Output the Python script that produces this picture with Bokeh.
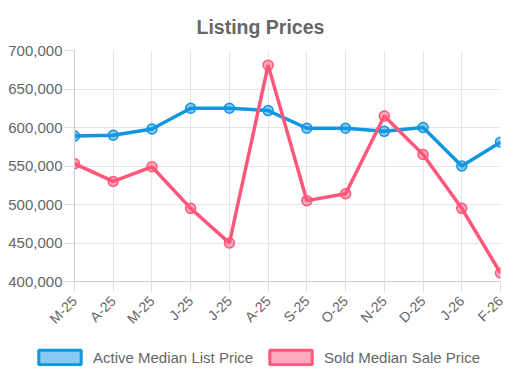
from math import pi
from bokeh.plotting import figure
from bokeh.layouts import column
from bokeh.models import (Range1d, FixedTicker, NumeralTickFormatter, Title,
                          Legend, LegendItem, ColumnDataSource)
from bokeh.embed import file_html
from bokeh.resources import INLINE

months = ["M-25", "A-25", "M-25", "J-25", "J-25", "A-25", "S-25", "O-25",
          "N-25", "D-25", "J-26", "F-26"]
active_list = [589000, 590000, 598000, 625000, 625000, 622000, 599000, 599000,
               595000, 600000, 550000, 581000]
sold_sale = [553000, 530000, 549000, 495000, 450000, 681000, 505000, 514000,
             615000, 565000, 495000, 411000]
y_ticks = [400000, 450000, 500000, 550000, 600000, 650000, 700000]
series_names = ["Active Median List Price", "Sold Median Sale Price"]

BLUE = "#1296e2"
RED = "#ff5679"
FONT = "Liberation Sans"
GREY = "#666666"

x = list(range(len(months)))

p = figure(width=520, height=335, output_backend="svg", toolbar_location=None,
           x_range=Range1d(0, len(months) - 1), y_range=Range1d(400000, 700000),
           min_border_left=74, min_border_right=20, min_border_top=50,
           min_border_bottom=53)
p.frame_align = False
p.outline_line_color = None
p.background_fill_color = "white"
p.border_fill_color = "white"

# axes
p.xaxis.ticker = FixedTicker(ticks=x)
p.xaxis.major_label_overrides = {i: m for i, m in enumerate(months)}
p.xaxis.major_label_orientation = pi / 4
p.yaxis.ticker = FixedTicker(ticks=y_ticks)
p.yaxis.formatter = NumeralTickFormatter(format="0,0")
for ax in (p.xaxis, p.yaxis):
    ax.axis_line_color = "#cccccc"
    ax.major_tick_line_color = "#dddddd"
    ax.major_tick_out = 10
    ax.major_tick_in = 0
    ax.minor_tick_line_color = None
    ax.major_label_text_font = FONT
    ax.major_label_text_color = GREY
p.yaxis.major_label_text_font_size = "15px"
p.yaxis.major_label_standoff = 2
p.xaxis.major_label_text_font_size = "14px"
p.xaxis.major_label_standoff = 7

p.xgrid.ticker = FixedTicker(ticks=x)
p.ygrid.ticker = FixedTicker(ticks=y_ticks)
p.grid.grid_line_color = "#e5e5e5"

src = ColumnDataSource(dict(x=x, a=active_list, s=sold_sale))

p.line("x", "a", source=src, line_color=BLUE, line_width=3.5)
p.scatter("x", "a", source=src, size=10, fill_color=BLUE, fill_alpha=0.5,
          line_color=BLUE, line_width=1.5)
p.line("x", "s", source=src, line_color=RED, line_width=3.5)
p.scatter("x", "s", source=src, size=10, fill_color=RED, fill_alpha=0.5,
          line_color=RED, line_width=1.5)

title = Title(text="Listing Prices", align="left", offset=122,
              text_font=FONT, text_font_size="19.5px", text_font_style="bold",
              text_color=GREY, standoff=26)
p.add_layout(title, "above")

# legend strip below the chart
lf = figure(width=520, height=46, output_backend="svg", toolbar_location=None,
            x_range=Range1d(0, 1), y_range=Range1d(0, 1),
            x_axis_type=None, y_axis_type=None,
            min_border_left=0, min_border_right=0, min_border_top=0,
            min_border_bottom=0)
lf.frame_align = False
lf.outline_line_color = None
lf.grid.visible = False
# swatch glyphs kept outside the visible range; only the legend draws them
hidden = ColumnDataSource(dict(l=[5], r=[6], b=[5], t=[6]))
qa = lf.quad(left="l", right="r", bottom="b", top="t", source=hidden,
             fill_color=BLUE, fill_alpha=0.5, line_color=BLUE, line_width=3)
qs = lf.quad(left="l", right="r", bottom="b", top="t", source=hidden,
             fill_color=RED, fill_alpha=0.5, line_color=RED, line_width=3)

legend = Legend(items=[LegendItem(label=series_names[0], renderers=[qa]),
                       LegendItem(label=series_names[1], renderers=[qs])],
                location=(33, 15), orientation="horizontal",
                glyph_width=53, glyph_height=18, label_standoff=7, spacing=11,
                padding=0, margin=0, border_line_color=None,
                background_fill_alpha=0, label_text_font=FONT,
                label_text_font_size="15px", label_text_color=GREY,
                label_height=18)
lf.add_layout(legend)

layout = column(p, lf, spacing=0)
open("out.html", "w").write(file_html(layout, INLINE))
